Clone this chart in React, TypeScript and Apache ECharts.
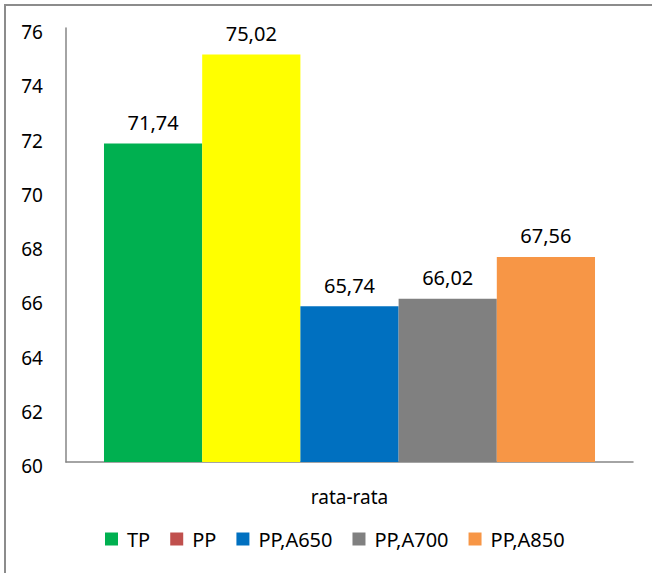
import React, { useEffect, useRef } from "react";
import * as echarts from "echarts";

const categories = ["rata-rata"];
const seriesNames = ["TP", "PP", "PP,A650", "PP,A700", "PP,A850"];
const seriesValues = [71.74, 75.02, 65.74, 66.02, 67.56];
const legendColors = ["#00B050", "#C0504D", "#0070C0", "#808080", "#F79646"];
const barColors = ["#00B050", "#FFFF00", "#0070C0", "#808080", "#F79646"];
const yMin = 60;
const yMax = 76;
const yInterval = 2;

const FONT = "Noto Sans";

export default function App() {
  const ref = useRef<HTMLDivElement>(null);
  useEffect(() => {
    if (!ref.current) return;
    const chart = echarts.init(ref.current, undefined, { renderer: "svg" });
    const series = seriesNames.map((name, i) => ({
      name,
      type: "bar",
      barGap: "0%",
      barCategoryGap: "13.4%",
      itemStyle: { color: legendColors[i] },
      data: [{ value: seriesValues[i], itemStyle: { color: barColors[i] } }],
      label: {
        show: true,
        position: "top",
        distance: 11,
        color: "#000",
        fontFamily: FONT,
        fontSize: 20,
        formatter: (p: any) => Number(p.value).toFixed(2).replace(".", ","),
      },
    }));
    chart.setOption({
      animation: false,
      backgroundColor: "#fff",
      textStyle: { fontFamily: FONT },
      graphic: [
        {
          type: "rect",
          shape: { x: 5, y: 5, width: 700, height: 620 },
          style: { fill: "none", stroke: "#8c8c8c", lineWidth: 2 },
          silent: true,
        },
      ],
      grid: { left: 66, top: 28, right: 19, bottom: 111 },
      legend: {
        left: 100,
        top: 524,
        icon: "rect",
        itemWidth: 13,
        itemHeight: 13,
        itemGap: 20,
        textStyle: {
          fontFamily: FONT,
          fontSize: 20,
          color: "#000",
          padding: [0, 0, 0, 4],
        },
        data: seriesNames,
      },
      xAxis: {
        type: "category",
        data: categories,
        axisLine: { lineStyle: { color: "#868686", width: 1.5 } },
        axisTick: { show: false },
        axisLabel: {
          color: "#000",
          fontFamily: FONT,
          fontSize: 19,
          margin: 25,
        },
      },
      yAxis: {
        type: "value",
        min: yMin,
        max: yMax,
        interval: yInterval,
        axisLine: { show: true, lineStyle: { color: "#868686", width: 1.5 } },
        axisTick: { show: false },
        splitLine: { show: false },
        axisLabel: {
          color: "#000",
          fontFamily: FONT,
          fontSize: 19,
          margin: 23,
          formatter: "{a|{value}}",
          rich: {
            a: {
              fontFamily: FONT,
              fontSize: 19,
              color: "#000",
              padding: [8, 0, 0, 0],
            },
          },
        },
      },
      series,
    });
    return () => chart.dispose();
  }, []);
  return (
    <div
      ref={ref}
      style={{ position: "fixed", left: 0, top: 0, width: 652, height: 573 }}
    />
  );
}
